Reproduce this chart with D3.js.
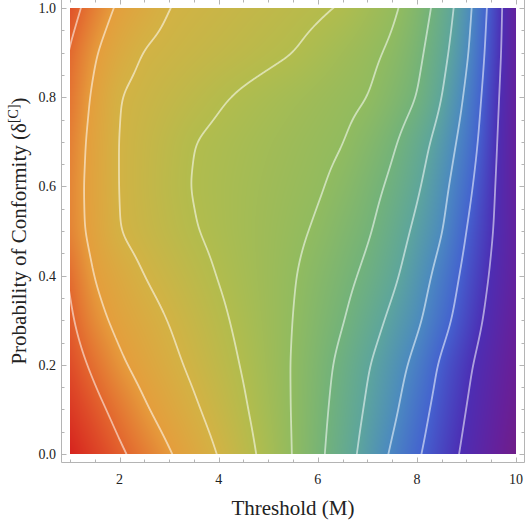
<!DOCTYPE html>
<html>
<head>
<meta charset="utf-8">
<script src="https://cdn.jsdelivr.net/npm/d3@7"></script>
<style>
  body { margin: 0; background: #fff; }
  svg { display: block; }
  text { font-family: "Liberation Serif", "Times New Roman", serif; fill: #222; }
</style>
</head>
<body>
<svg id="chart" width="525" height="526"></svg>
<script>
// grid columns (Threshold M) and rows (Probability of Conformity)
var thresholds = [1, 1.5, 2, 2.5, 3, 3.5, 4, 4.5, 5, 5.5, 6, 6.5, 7, 7.5, 8, 8.5, 9, 9.5, 10];
var conformity = [0, 0.1, 0.2, 0.3, 0.4, 0.5, 0.6, 0.7, 0.8, 0.9, 1.0];

// field values, one array per conformity row
var conf00 = [11.30, 10.70, 10.15, 9.61, 9.07, 8.52, 7.96, 7.34, 6.68, 5.97, 5.22, 4.45, 3.67, 2.88, 2.12, 1.45, 0.81, 0.16, -0.49];
var conf01 = [10.85, 10.27, 9.69, 9.10, 8.61, 8.13, 7.63, 7.11, 6.54, 5.95, 5.30, 4.60, 3.88, 3.21, 2.39, 1.64, 0.99, 0.34, -0.31];
var conf02 = [10.46, 9.80, 9.14, 8.67, 8.24, 7.81, 7.37, 6.93, 6.45, 5.95, 5.38, 4.76, 4.07, 3.44, 2.73, 1.84, 1.17, 0.51, -0.16];
var conf03 = [10.14, 9.29, 8.74, 8.36, 7.97, 7.57, 7.17, 6.78, 6.39, 6.00, 5.53, 5.06, 4.44, 3.80, 3.18, 2.32, 1.50, 0.74, -0.02];
var conf04 = [9.88, 8.93, 8.46, 7.99, 7.65, 7.30, 6.96, 6.66, 6.36, 6.06, 5.68, 5.28, 4.81, 4.20, 3.48, 2.65, 1.73, 0.92, 0.11];
var conf05 = [9.45, 8.70, 7.98, 7.67, 7.35, 7.04, 6.81, 6.59, 6.38, 6.16, 5.91, 5.51, 5.12, 4.51, 3.80, 3.07, 1.98, 1.07, 0.16];
var conf06 = [9.43, 8.66, 7.95, 7.60, 7.25, 6.95, 6.78, 6.61, 6.43, 6.26, 6.09, 5.78, 5.34, 4.83, 4.14, 3.30, 2.28, 1.18, 0.07];
var conf07 = [9.54, 8.69, 7.94, 7.63, 7.31, 7.00, 6.84, 6.68, 6.52, 6.36, 6.20, 6.04, 5.63, 5.15, 4.45, 3.60, 2.58, 1.31, 0.03];
var conf08 = [9.73, 8.82, 7.98, 7.75, 7.53, 7.31, 7.08, 6.89, 6.72, 6.55, 6.38, 6.20, 6.03, 5.56, 5.02, 4.02, 2.85, 1.43, 0.08];
var conf09 = [9.93, 9.07, 8.40, 7.94, 7.79, 7.63, 7.48, 7.33, 7.17, 7.02, 6.76, 6.48, 6.21, 5.86, 5.26, 4.32, 3.16, 1.57, 0.14];
var conf10 = [10.37, 9.53, 8.83, 8.40, 7.99, 7.84, 7.70, 7.55, 7.41, 7.26, 7.12, 6.93, 6.55, 6.17, 5.53, 4.60, 3.36, 1.71, 0.10];
var field = [conf00, conf01, conf02, conf03, conf04, conf05, conf06, conf07, conf08, conf09, conf10];

var contourLevels = [1, 2, 3, 4, 5, 6, 7, 8, 9, 10];

// rainbow colours by field value
var colorValues = [-0.5, 0, 1, 2, 3, 4, 5, 6, 7, 8, 9, 10, 10.5, 11.3];
var colorStops = ["#701e88", "#66209a", "#4c2eb4", "#4462cf", "#4b89c0", "#5da59c", "#72b27a",
                  "#91bb5f", "#b2bc4d", "#d3b244", "#e59d3c", "#e3662e", "#de4a28", "#d6231e"];

var xTicks = [2, 4, 6, 8, 10];
var yTicks = [0, 0.2, 0.4, 0.6, 0.8, 1.0];

var svg = d3.select("#chart");
var plotL = 70, plotR = 516, plotT = 8, plotB = 454;
var pw = plotR - plotL, ph = plotB - plotT;

var x = d3.scaleLinear().domain([1, 10]).range([plotL, plotR]);
var y = d3.scaleLinear().domain([0, 1]).range([plotB, plotT]);
var color = d3.scaleLinear().domain(colorValues).range(colorStops).clamp(true);

var nc = thresholds.length, nr = conformity.length;
var cStep = (thresholds[nc - 1] - thresholds[0]) / (nc - 1);
var rStep = (conformity[nr - 1] - conformity[0]) / (nr - 1);

// bilinear lookup, linear extrapolation past the edges
function valueAt(m, d) {
    var fx = (m - thresholds[0]) / cStep, fy = (d - conformity[0]) / rStep;
    var i = Math.max(0, Math.min(nc - 2, Math.floor(fx)));
    var j = Math.max(0, Math.min(nr - 2, Math.floor(fy)));
    var tx = fx - i, ty = fy - j;
    var a = field[j][i] + (field[j][i + 1] - field[j][i]) * tx;
    var b = field[j + 1][i] + (field[j + 1][i + 1] - field[j + 1][i]) * tx;
    return a + (b - a) * ty;
}

// sample onto a padded pixel grid, then soften with box blurs
var pad = 30, gw = pw + 2 * pad, gh = ph + 2 * pad;
var grid = new Float64Array(gw * gh);
for (var gy = 0; gy < gh; gy++) {
    for (var gx = 0; gx < gw; gx++) {
        grid[gy * gw + gx] = valueAt(x.invert(plotL - pad + gx + 0.5), y.invert(plotT - pad + gy + 0.5));
    }
}
function boxPass(src, w, h, r, horiz) {
    var out = new Float64Array(src.length);
    var n = horiz ? w : h, lines = horiz ? h : w;
    for (var l = 0; l < lines; l++) {
        for (var k = 0; k < n; k++) {
            var s = 0, cnt = 0;
            for (var q = k - r; q <= k + r; q++) {
                var qq = Math.max(0, Math.min(n - 1, q));
                s += horiz ? src[l * w + qq] : src[qq * w + l];
                cnt++;
            }
            out[horiz ? l * w + k : k * w + l] = s / cnt;
        }
    }
    return out;
}
for (var p = 0; p < 3; p++) {
    grid = boxPass(grid, gw, gh, 6, true);
    grid = boxPass(grid, gw, gh, 9, false);
}

// shaded field
var canvas = document.createElement("canvas");
canvas.width = pw; canvas.height = ph;
var ctx = canvas.getContext("2d");
var img = ctx.createImageData(pw, ph);
for (var py = 0; py < ph; py++) {
    for (var px = 0; px < pw; px++) {
        var c = d3.rgb(color(grid[(py + pad) * gw + px + pad]));
        var o = (py * pw + px) * 4;
        img.data[o] = c.r; img.data[o + 1] = c.g; img.data[o + 2] = c.b; img.data[o + 3] = 255;
    }
}
ctx.putImageData(img, 0, 0);
svg.append("image")
    .attr("x", plotL).attr("y", plotT)
    .attr("width", pw).attr("height", ph)
    .attr("href", canvas.toDataURL());

// contour lines
var contours = d3.contours().size([gw, gh]).thresholds(contourLevels)(Array.from(grid));

svg.append("clipPath").attr("id", "plotclip")
    .append("rect").attr("x", plotL).attr("y", plotT).attr("width", pw).attr("height", ph);

var path = d3.geoPath(d3.geoIdentity().translate([plotL - pad, plotT - pad]));
svg.append("g")
    .attr("clip-path", "url(#plotclip)")
    .selectAll("path")
    .data(contours)
    .join("path")
    .attr("d", path)
    .attr("fill", "none")
    .attr("stroke", "#ffffff")
    .attr("stroke-opacity", 0.55)
    .attr("stroke-width", 1.8)
    .attr("stroke-linejoin", "round");

// frame with ticks
var frameColor = "#b4b4b4";
var fl = 61.5, fb = 462.5, ft = -0.5, fr = 524.5;
var frame = svg.append("g").attr("stroke", frameColor).attr("stroke-width", 1).attr("fill", "none");
frame.append("path").attr("d", "M" + fl + "," + ft + "V" + fb + "H" + fr + "V" + ft + "Z");

var xMinor = d3.range(1, 10.01, 0.5);
var yMinor = d3.range(0, 1.001, 0.05);
function isMajorX(v) { return xTicks.some(function (t) { return Math.abs(t - v) < 1e-6; }); }
function isMajorY(v) { return yTicks.some(function (t) { return Math.abs(t - v) < 1e-6; }); }

xMinor.forEach(function (v) {
    var len = isMajorX(v) ? 5 : 3;
    var tx = Math.round(x(v)) + 0.5;
    frame.append("line").attr("x1", tx).attr("x2", tx).attr("y1", fb).attr("y2", fb - len);
    frame.append("line").attr("x1", tx).attr("x2", tx).attr("y1", ft).attr("y2", ft + len);
});
yMinor.forEach(function (v) {
    var len = isMajorY(v) ? 5 : 3;
    var ty = Math.round(y(v)) + 0.5;
    frame.append("line").attr("x1", fl).attr("x2", fl + len).attr("y1", ty).attr("y2", ty);
    frame.append("line").attr("x1", fr).attr("x2", fr - len).attr("y1", ty).attr("y2", ty);
});

// tick labels
svg.append("g").selectAll("text")
    .data(xTicks)
    .join("text")
    .attr("x", function (d) { return x(d); })
    .attr("y", 484)
    .attr("text-anchor", "middle")
    .attr("font-size", 14)
    .text(function (d) { return d; });

svg.append("g").selectAll("text")
    .data(yTicks)
    .join("text")
    .attr("x", 56)
    .attr("y", function (d) { return y(d); })
    .attr("dy", "0.35em")
    .attr("text-anchor", "end")
    .attr("font-size", 14)
    .text(function (d) { return d.toFixed(1); });

// axis titles
svg.append("text")
    .attr("x", (plotL + plotR) / 2)
    .attr("y", 515)
    .attr("text-anchor", "middle")
    .attr("font-size", 21)
    .text("Threshold (M)");

var yt = svg.append("text")
    .attr("transform", "translate(26," + ((plotT + plotB) / 2) + ") rotate(-90)")
    .attr("text-anchor", "middle")
    .attr("font-size", 21);
yt.append("tspan").text("Probability of Conformity (\u03b4");
yt.append("tspan").attr("font-size", 14).attr("dy", -8).text("[C]");
yt.append("tspan").attr("dy", 8).text(")");
</script>
</body>
</html>
